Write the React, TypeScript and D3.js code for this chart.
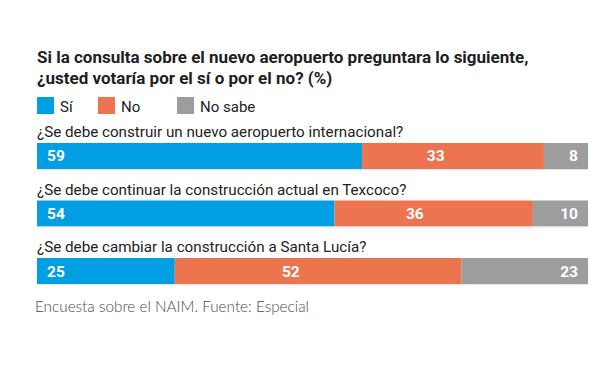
import React from "react";
import * as d3 from "d3";

const questions = [
  "¿Se debe construir un nuevo aeropuerto internacional?",
  "¿Se debe continuar la construcción actual en Texcoco?",
  "¿Se debe cambiar la construcción a Santa Lucía?",
];
const si = [59, 54, 25];
const no = [33, 36, 52];
const noSabe = [8, 10, 23];
const seriesNames = ["Sí", "No", "No sabe"];
const seriesColors = ["#009fe3", "#ec7550", "#9d9d9d"];
const titleLines = [
  "Si la consulta sobre el nuevo aeropuerto preguntara lo siguiente,",
  "¿usted votaría por el sí o por el no? (%)",
];
const footer = "Encuesta sobre el NAIM. Fuente: Especial";

const W = 616;
const H = 368;
const FONT = "Roboto, 'DejaVu Sans', sans-serif";

export default function App() {
  const x = d3.scaleLinear().domain([0, 100]).range([37, 588]);
  const y = d3
    .scaleBand<number>()
    .domain(questions.map((_, i) => i))
    .range([143, 284])
    .paddingInner(0.548)
    .paddingOuter(0);

  const rows = questions.map((q, i) => {
    const vals = [si[i], no[i], noSabe[i]];
    let acc = 0;
    const segs = vals.map((v, k) => {
      const s = { k, v, x0: acc, x1: acc + v };
      acc += v;
      return s;
    });
    return { q, i, segs };
  });

  const legendX = [37, 98, 177];

  return (
    <svg
      width={W}
      height={H}
      style={{ position: "absolute", left: 0, top: 0, background: "#fff" }}
      fontFamily={FONT}
    >
      <rect width={W} height={H} fill="#fff" />
      {titleLines.map((t, i) => (
        <text
          key={i}
          x={37}
          y={63 + i * 20.5}
          fontSize={17}
          fontWeight={700}
          fill="#1e1e1e"
        >
          {t}
        </text>
      ))}
      {seriesNames.map((n, k) => (
        <g key={n}>
          <rect x={legendX[k]} y={97} width={17} height={17} fill={seriesColors[k]} />
          <text x={legendX[k] + 23} y={111.5} fontSize={15} fill="#222">
            {n}
          </text>
        </g>
      ))}
      {rows.map((r) => {
        const top = y(r.i)!;
        const bh = y.bandwidth();
        return (
          <g key={r.i}>
            <text x={37} y={top - 6} fontSize={15.2} fill="#222">
              {r.q}
            </text>
            {r.segs.map((s) => (
              <rect
                key={s.k}
                x={x(s.x0)}
                y={top}
                width={x(s.x1) - x(s.x0)}
                height={bh}
                fill={seriesColors[s.k]}
              />
            ))}
            <line
              x1={x(0)}
              x2={x(100)}
              y1={top + bh + 0.5}
              y2={top + bh + 0.5}
              stroke="#e4e4e4"
              strokeWidth={1}
            />
            {r.segs.map((s) => {
              let lx = 0;
              let anchor: "start" | "middle" | "end" = "middle";
              if (s.k === 0) {
                lx = x(s.x0) + 10;
                anchor = "start";
              } else if (s.k === 1) {
                lx = x(s.x0) + (x(s.x1) - x(s.x0)) * 0.405;
                anchor = "middle";
              } else {
                lx = x(s.x1) - 10;
                anchor = "end";
              }
              return (
                <text
                  key={"l" + s.k}
                  x={lx}
                  y={top + bh / 2 + 5.5}
                  fontSize={15.5}
                  fontWeight={700}
                  fill="#fff"
                  textAnchor={anchor}
                >
                  {s.v}
                </text>
              );
            })}
          </g>
        );
      })}
      <text x={35} y={312} fontSize={15.3} fontWeight={300} fill="#4a4a4a" fontFamily="Lato, sans-serif">
        {footer}
      </text>
    </svg>
  );
}
